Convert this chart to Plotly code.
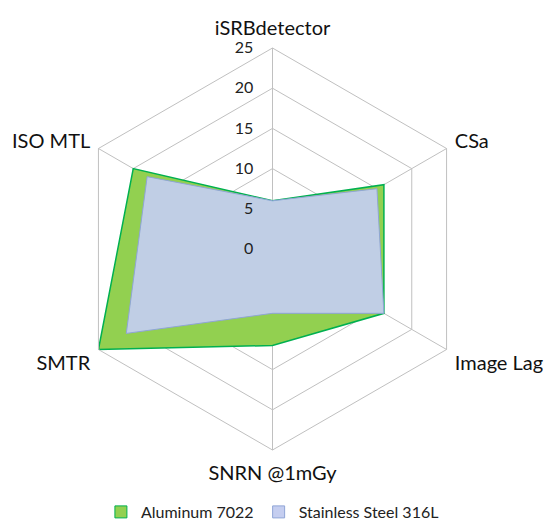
import plotly.graph_objects as go

categories = ["iSRBdetector", "CSa", "Image Lag", "SNRN @1mGy", "SMTR", "ISO MTL"]
aluminum_7022 = [6, 16, 16, 12, 25, 20]
stainless_316l = [6, 15, 16, 8, 21, 18]
radial_ticks = [0, 5, 10, 15, 20, 25]

def closed(v):
    return v + v[:1]

series = [
    ("Aluminum 7022", aluminum_7022, "#92D050", "#00B050", 1.5, "#92D050"),
    ("Stainless Steel 316L", stainless_316l, "rgba(200,206,255,0.85)", "#8FA5D6", 1, "#C5CEF0"),
]

fig = go.Figure()
for name, vals, fillc, linec, lw, legc in series:
    fig.add_trace(go.Scatterpolar(
        r=closed(vals), theta=closed(categories), name=name,
        mode="lines", fill="toself", fillcolor=fillc,
        line=dict(color=linec, width=lw), showlegend=False, legendgroup=name,
    ))
for name, vals, fillc, linec, lw, legc in series:
    fig.add_trace(go.Scatterpolar(
        r=[None], theta=[categories[0]], name=name, mode="markers",
        marker=dict(symbol="square", size=12, color=legc,
                    line=dict(color=linec, width=1)),
        legendgroup=name, showlegend=True, hoverinfo="skip",
    ))

pad = "<span style='font-size:14px;color:rgba(0,0,0,0)'>00</span>"
radial_ticktext = [f"{v}{pad}" for v in radial_ticks]

font_family = "Lato, Open Sans, sans-serif"
fig.update_layout(
    width=559, height=521,
    margin=dict(l=0, r=0, t=0, b=0),
    paper_bgcolor="white", plot_bgcolor="white",
    font=dict(family=font_family, color="#222222"),
    polar=dict(
        domain=dict(x=[63.5/559, 465.5/559], y=[79/521, 481/521]),
        gridshape="linear",
        bgcolor="white",
        angularaxis=dict(
            rotation=90, direction="clockwise",
            categoryorder="array", categoryarray=categories,
            showline=True, linecolor="#C0C0C0", linewidth=1,
            gridcolor="#C0C0C0", gridwidth=1,
            tickfont=dict(size=20, color="#111111"),
            ticks="outside", ticklen=5, tickcolor="rgba(0,0,0,0)",
        ),
        radialaxis=dict(
            range=[0, 25], tickvals=radial_ticks, ticktext=radial_ticktext,
            angle=90, side="counterclockwise",
            showline=False, gridcolor="#C0C0C0", gridwidth=1,
            tickfont=dict(size=16, color="#222222"),
            ticks="", tickangle=90,
        ),
    ),
    legend=dict(
        orientation="h", x=0.473, xanchor="center", y=0.0, yanchor="bottom",
        font=dict(size=16, color="#222222"), itemwidth=30,
    ),
)

fig.write_html("out.html")
